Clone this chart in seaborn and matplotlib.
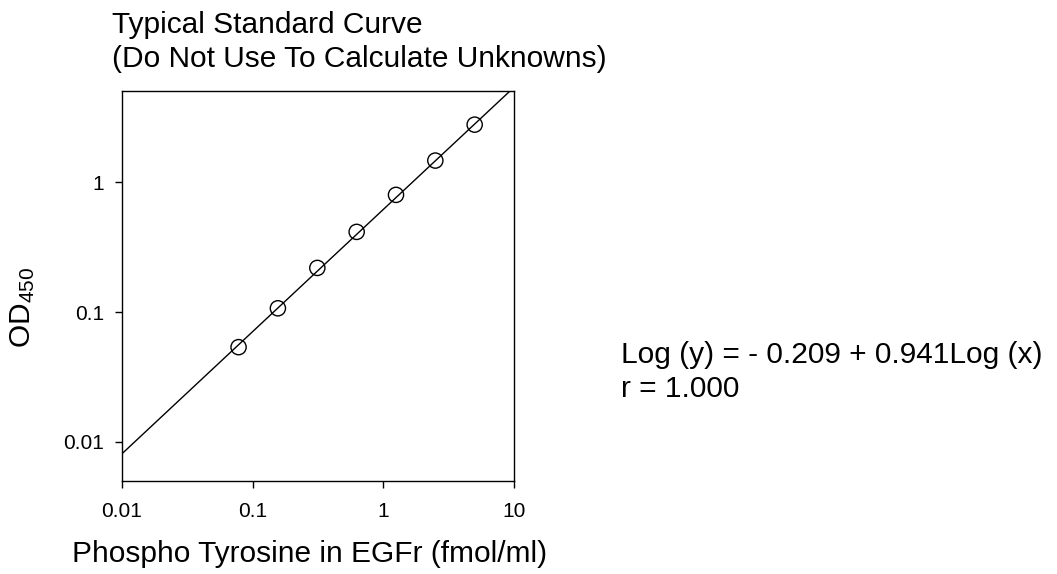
import numpy as np
import pandas as pd
import matplotlib
matplotlib.use("Agg")
import matplotlib.pyplot as plt
import seaborn as sns

# Data
conc = [0.078, 0.156, 0.3125, 0.625, 1.25, 2.5, 5.0]
od = [0.0537, 0.107, 0.219, 0.415, 0.80, 1.47, 2.78]
fit_intercept = -0.209
fit_slope = 0.941
x_ticks = [0.01, 0.1, 1, 10]
x_tick_labels = ["0.01", "0.1", "1", "10"]
y_ticks = [0.01, 0.1, 1]
y_tick_labels = ["0.01", "0.1", "1"]

sns.set_style("ticks")
plt.rcParams['font.family'] = ['Liberation Sans', 'DejaVu Sans']
plt.rcParams['mathtext.fontset'] = 'custom'
plt.rcParams['mathtext.rm'] = 'Liberation Sans'
plt.rcParams['text.color'] = 'black'
plt.rcParams['axes.labelcolor'] = 'black'

W, H = 1057, 574
fig = plt.figure(figsize=(W/100, H/100), dpi=100)
ax = fig.add_axes([122/W, 1-481/H, (514-122)/W, (481-91)/H])

pts = pd.DataFrame({"conc": conc, "od": od})
xfit = np.logspace(-2, 1, 200)
yfit = 10 ** (fit_intercept + fit_slope * np.log10(xfit))
fit = pd.DataFrame({"x": xfit, "y": yfit})

sns.lineplot(data=fit, x="x", y="y", ax=ax, color="black", lw=1.0)
sns.scatterplot(data=pts, x="conc", y="od", ax=ax, marker="o", s=120,
                facecolor="none", edgecolor="black", linewidth=1.0, zorder=3)

ax.set_xscale("log")
ax.set_yscale("log")
ax.set_xlim(0.01, 10)
ax.set_ylim(0.005, 5.05)
ax.set_xticks(x_ticks)
ax.set_xticklabels(x_tick_labels)
ax.set_yticks(y_ticks)
ax.set_yticklabels(y_tick_labels)
ax.minorticks_off()
ax.tick_params(axis="both", which="major", length=5, width=1.0, color="black",
               labelsize=15, labelcolor="black", direction="out")
ax.tick_params(axis="x", pad=10)
ax.tick_params(axis="y", pad=8)
for sp in ax.spines.values():
    sp.set_visible(True)
    sp.set_color("black")
    sp.set_linewidth(1.0)

FS = 21.5
ax.set_xlabel("Phospho Tyrosine in EGFr (fmol/ml)", fontsize=FS)
ax.xaxis.set_label_coords((310-122)/392, (481-562)/390)
ax.xaxis.label.set_va("baseline")
ax.set_ylabel(r"$\mathregular{OD_{450}}$", fontsize=FS)
ax.yaxis.set_label_coords((23-122)/392, (481-307)/390)
ax.yaxis.label.set_va("center")

fig.text(112/W, 1-33/H, "Typical Standard Curve", fontsize=FS, va="baseline", ha="left")
fig.text(112/W, 1-67/H, "(Do Not Use To Calculate Unknowns)", fontsize=FS, va="baseline", ha="left")

fig.text(621/W, 1-363/H, "Log (y) = - 0.209 + 0.941Log (x)", fontsize=FS, va="baseline", ha="left")
fig.text(621/W, 1-397/H, "r = 1.000", fontsize=FS, va="baseline", ha="left")

fig.savefig("out.png", dpi=100)
